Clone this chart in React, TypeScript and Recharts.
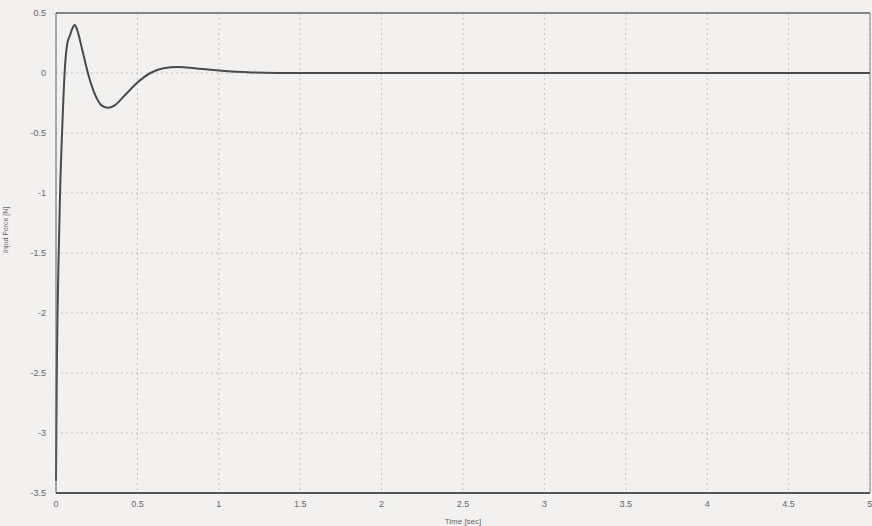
import { LineChart, Line, XAxis, YAxis, CartesianGrid, ReferenceLine } from "recharts";

// time [sec] and input force [N]
const time = [0, 0.005, 0.015, 0.025, 0.04, 0.055, 0.07, 0.085, 0.1, 0.115, 0.13, 0.16, 0.2, 0.24, 0.28, 0.32, 0.36, 0.42, 0.5, 0.58, 0.66, 0.75, 0.85, 1.0, 1.2, 1.5, 2, 3, 4, 5];
const force = [-3.4, -2.5, -1.6, -1.0, -0.4, 0.05, 0.25, 0.31, 0.37, 0.4, 0.36, 0.2, -0.02, -0.18, -0.27, -0.29, -0.27, -0.19, -0.08, 0.0, 0.04, 0.05, 0.04, 0.02, 0.005, 0, 0, 0, 0, 0];
const xTicks = [0, 0.5, 1, 1.5, 2, 2.5, 3, 3.5, 4, 4.5, 5];
const yTicks = [-3.5, -3, -2.5, -2, -1.5, -1, -0.5, 0, 0.5];

const data = time.map((t, i) => ({ t, f: force[i] }));

const font = "Liberation Sans, Arial, sans-serif";
const tickStyle = { fontSize: 9, fill: "#666", fontFamily: font };

export default function App() {
  return (
    <div style={{ position: "absolute", left: 0, top: 0, width: 872, height: 526, background: "#f3f0f0" }}>
      <LineChart width={872} height={526} data={data} margin={{ top: 13, right: 2, bottom: 0, left: 0 }}>
        <CartesianGrid stroke="#c4c0c0" strokeDasharray="2 3" />
        <XAxis
          dataKey="t"
          type="number"
          domain={[0, 5]}
          ticks={xTicks}
          tick={tickStyle}
          tickLine={false}
          axisLine={{ stroke: "#555", strokeWidth: 2 }}
          height={33}
          tickMargin={2}
          label={{ value: "Time [sec]", position: "insideBottom", offset: 2, fontSize: 8, fill: "#666", fontFamily: font }}
        />
        <YAxis
          type="number"
          domain={[-3.5, 0.5]}
          ticks={yTicks}
          tick={tickStyle}
          tickLine={false}
          axisLine={{ stroke: "#666", strokeWidth: 1 }}
          width={56}
          tickMargin={4}
          label={{ value: "Input Force [N]", angle: -90, position: "insideLeft", offset: 6, fontSize: 7, fill: "#666", fontFamily: font }}
        />
        <ReferenceLine y={0.5} stroke="#666" strokeWidth={1.5} />
        <ReferenceLine x={5} stroke="#888" strokeWidth={1} />
        <Line type="monotone" dataKey="f" stroke="#4a4a4a" strokeWidth={2} dot={false} isAnimationActive={false} />
      </LineChart>
    </div>
  );
}
